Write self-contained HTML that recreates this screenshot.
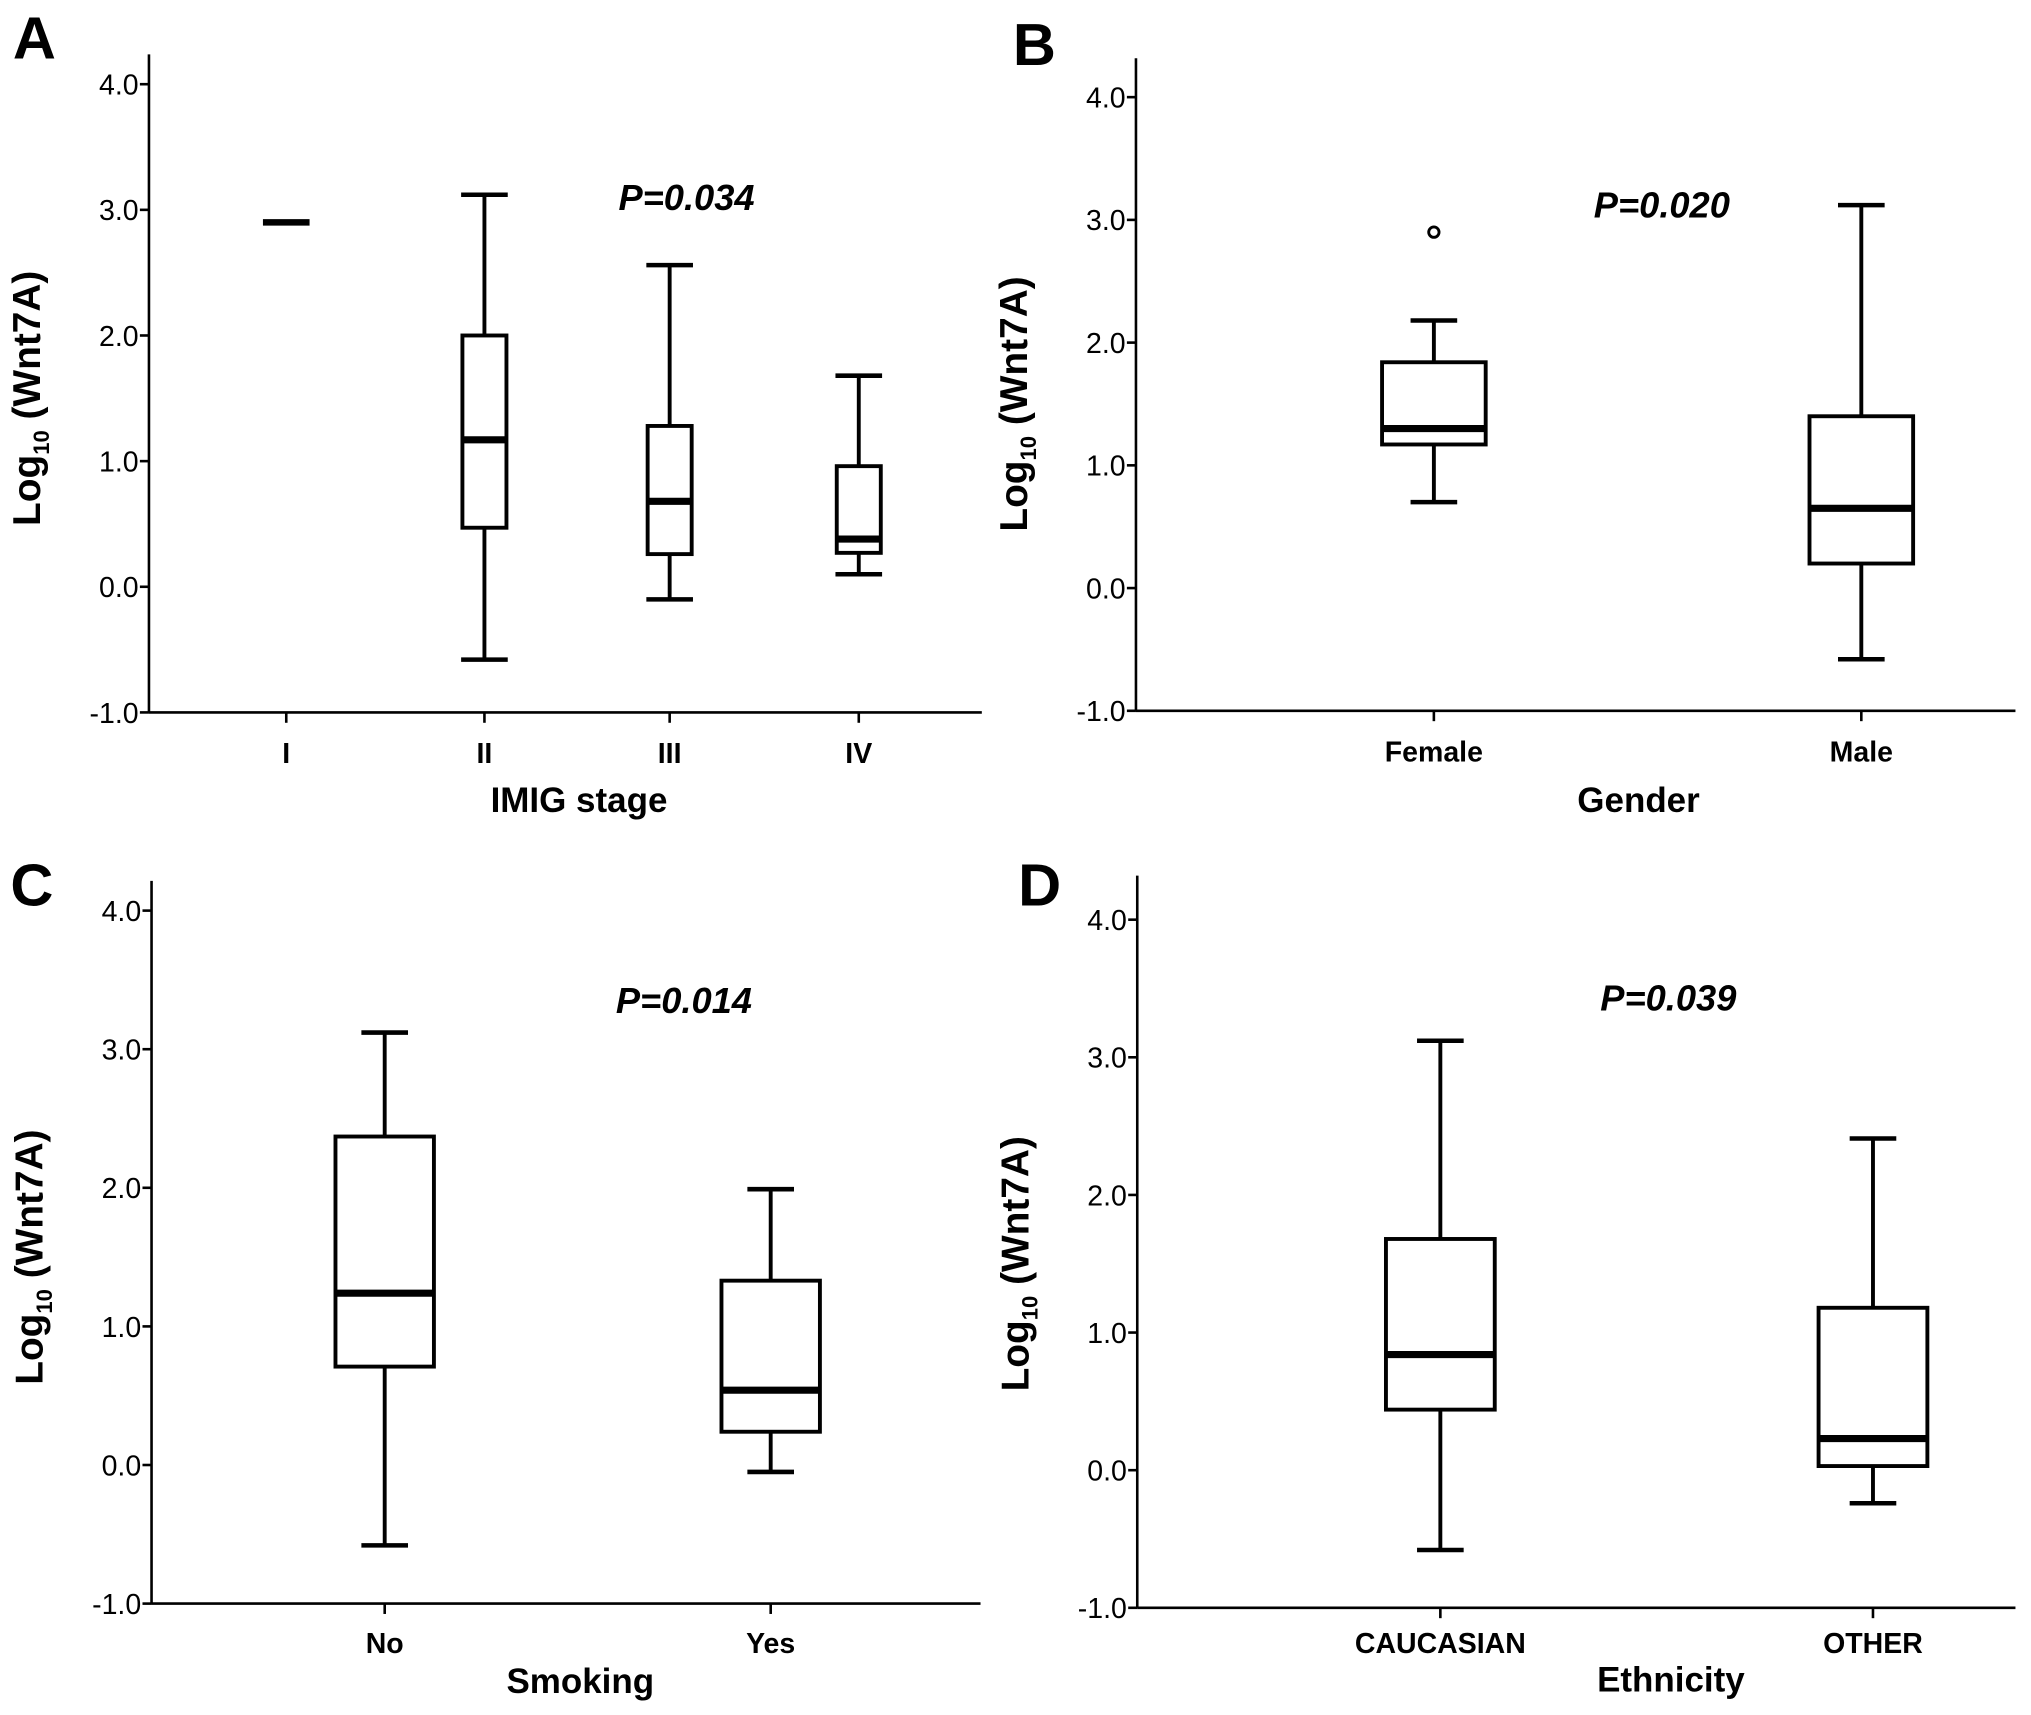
<!DOCTYPE html>
<html><head><meta charset="utf-8">
<style>
html,body{margin:0;padding:0;background:#fff;}
svg{display:block;}
text{font-family:"Liberation Sans",sans-serif;fill:#000;}
</style></head>
<body>
<svg id="fig" width="2031" height="1715" viewBox="0 0 1568 1324" preserveAspectRatio="none" xmlns="http://www.w3.org/2000/svg"></svg>
<script>
// ---- data ----
const yTicks = [4.0, 3.0, 2.0, 1.0, 0.0, -1.0];
const tickLabels = ["4.0", "3.0", "2.0", "1.0", "0.0", "-1.0"];

const catsA = ["I", "II", "III", "IV"];
const minA = [2.9, -0.58, -0.10, 0.10];
const q1A = [2.9, 0.47, 0.26, 0.27];
const medA = [2.9, 1.17, 0.68, 0.38];
const q3A = [2.9, 2.00, 1.28, 0.96];
const maxA = [2.9, 3.12, 2.56, 1.68];

const catsB = ["Female", "Male"];
const minB = [0.70, -0.58];
const q1B = [1.17, 0.20];
const medB = [1.30, 0.65];
const q3B = [1.84, 1.40];
const maxB = [2.18, 3.12];
const outlierB = [2.90, null];

const catsC = ["No", "Yes"];
const minC = [-0.58, -0.05];
const q1C = [0.71, 0.24];
const medC = [1.24, 0.54];
const q3C = [2.37, 1.33];
const maxC = [3.12, 1.99];

const catsD = ["CAUCASIAN", "OTHER"];
const minD = [-0.58, -0.24];
const q1D = [0.44, 0.03];
const medD = [0.84, 0.23];
const q3D = [1.68, 1.18];
const maxD = [3.12, 2.41];

const svg = document.getElementById('fig');
const NS = 'http://www.w3.org/2000/svg';
function el(tag, attrs, parent){
  const e = document.createElementNS(NS, tag);
  for (const k in attrs) e.setAttribute(k, attrs[k]);
  (parent||svg).appendChild(e);
  return e;
}

function panel(cfg){
  const g = el('g', {});
  
  
  const y = v => cfg.y0 - (v) * (cfg.y0 - cfg.y4) / 4;
  const x = i => cfg.xs[i];
  const L = el('text', {x: cfg.lx, y: cfg.ly, 'font-size': 46, 'font-weight': 'bold'}, g);
  L.textContent = cfg.letter;
  
  
  const ya = el('line', {x1: cfg.ax, y1: cfg.top, x2: cfg.ax, y2: y(-1), stroke: '#000', 'stroke-width': 2}, g);
  
  
  const xa = el('line', {x1: cfg.ax, y1: y(-1), x2: cfg.right, y2: y(-1), stroke: '#000', 'stroke-width': 2}, g);
  
  
  yTicks.forEach((t, i) => {
    el('line', {x1: cfg.ax - 7, y1: y(t), x2: cfg.ax, y2: y(t), stroke: '#000', 'stroke-width': 2}, g);
    const tl = el('text', {x: cfg.ax - 8, y: y(t) + 8, 'font-size': 22, 'text-anchor': 'end'}, g);
    tl.textContent = tickLabels[i];
    
    
  });
  const yt = el('text', {transform: `translate(${cfg.ax - 84},${(y(4)+y(-1))/2}) rotate(-90)`, 'font-size': 30, 'font-weight': 'bold', 'text-anchor': 'middle'}, g);
  
  
  const t1 = el('tspan', {}, yt); t1.textContent = 'Log';
  const t2 = el('tspan', {'font-size': 17, dy: 7}, yt); t2.textContent = '10';
  const t3 = el('tspan', {dy: -7}, yt); t3.textContent = ' (Wnt7A)';
  cfg.cats.forEach((c, i) => {
    el('line', {x1: x(i), y1: y(-1), x2: x(i), y2: y(-1) + 8, stroke: '#000', 'stroke-width': 2}, g);
    const cl = el('text', {x: x(i), y: cfg.xly, 'font-size': 22, 'font-weight': 'bold', 'text-anchor': 'middle'}, g);
    cl.textContent = c;
    
    
    const bg = el('g', {}, g);
    
    
    const hw = cfg.hw, cw = 18;
    if (cfg.q1[i] === cfg.q3[i]) {
      el('line', {x1: x(i) - cw, y1: y(cfg.med[i]), x2: x(i) + cw, y2: y(cfg.med[i]), stroke: '#000', 'stroke-width': 5}, bg);
      return;
    }
    el('line', {x1: x(i), y1: y(cfg.max[i]), x2: x(i), y2: y(cfg.q3[i]), stroke: '#000', 'stroke-width': 3}, bg);
    el('line', {x1: x(i), y1: y(cfg.q1[i]), x2: x(i), y2: y(cfg.min[i]), stroke: '#000', 'stroke-width': 3}, bg);
    el('line', {x1: x(i) - cw, y1: y(cfg.max[i]), x2: x(i) + cw, y2: y(cfg.max[i]), stroke: '#000', 'stroke-width': 3.5}, bg);
    el('line', {x1: x(i) - cw, y1: y(cfg.min[i]), x2: x(i) + cw, y2: y(cfg.min[i]), stroke: '#000', 'stroke-width': 3.5}, bg);
    el('rect', {x: x(i) - hw, y: y(cfg.q3[i]), width: 2*hw, height: y(cfg.q1[i]) - y(cfg.q3[i]), fill: '#fff', stroke: '#000', 'stroke-width': 3}, bg);
    el('line', {x1: x(i) - hw, y1: y(cfg.med[i]), x2: x(i) + hw, y2: y(cfg.med[i]), stroke: '#000', 'stroke-width': 5.5}, bg);
    if (cfg.out && cfg.out[i] != null) {
      const o = el('circle', {cx: x(i), cy: y(cfg.out[i]), r: 4, fill: '#fff', stroke: '#000', 'stroke-width': 2.2}, bg);
      
      
    }
  });
  const xt = el('text', {x: cfg.xtx, y: cfg.xty, 'font-size': 27, 'font-weight': 'bold', 'text-anchor': 'middle'}, g);
  xt.textContent = cfg.xtitle;
  
  
  const p = el('text', {x: cfg.px, y: cfg.py, 'font-size': 28, 'font-weight': 'bold', 'font-style': 'italic', 'text-anchor': 'middle'}, g);
  p.textContent = cfg.ptext;
  
  
}

panel({letter:'A', lx:10, ly:45, ax:115, top:42, right:758, y4:65, y0:453,
  xs:[221,374,517,663], hw:17, cats:catsA, min:minA, q1:q1A, med:medA, q3:q3A, max:maxA,
  xly:589, xtitle:'IMIG stage', xtx:447, xty:627, ptext:'P=0.034', px:530, py:162});
panel({letter:'B', lx:782, ly:50, ax:877, top:45, right:1556, y4:75, y0:454,
  xs:[1107,1437], hw:40, cats:catsB, min:minB, q1:q1B, med:medB, q3:q3B, max:maxB, out:outlierB,
  xly:588, xtitle:'Gender', xtx:1265, xty:627, ptext:'P=0.020', px:1283, py:168});
panel({letter:'C', lx:8, ly:699, ax:117, top:680, right:757, y4:703, y0:1131,
  xs:[297,595], hw:38, cats:catsC, min:minC, q1:q1C, med:medC, q3:q3C, max:maxC,
  xly:1276, xtitle:'Smoking', xtx:448, xty:1307, ptext:'P=0.014', px:528, py:782});
panel({letter:'D', lx:786, ly:699, ax:878, top:676, right:1556, y4:710, y0:1135,
  xs:[1112,1446], hw:42, cats:catsD, min:minD, q1:q1D, med:medD, q3:q3D, max:maxD,
  xly:1276, xtitle:'Ethnicity', xtx:1290, xty:1306, ptext:'P=0.039', px:1288, py:780});
</script>
</body></html>
